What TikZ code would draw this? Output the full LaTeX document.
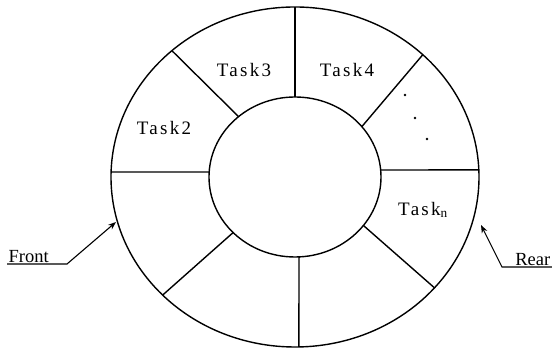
\documentclass[tikz,border=0pt]{standalone}
\usepackage{fontspec}
\setmainfont{Liberation Serif}
\newfontfamily\taskfont[LetterSpace=12]{Liberation Serif}
\usetikzlibrary{arrows.meta,calc}

\begin{document}
\begin{tikzpicture}[x=1pt,y=1pt,
  ring/.style={line width=1.4pt},
  task/.style={font=\taskfont\fontsize{19}{21}\selectfont, inner sep=0pt},
  tag/.style={font=\fontsize{18.5}{20}\selectfont, inner sep=1.5pt},
  pointer/.style={line width=1.1pt, -{Stealth[length=8pt,width=6pt]}}]
  \useasboundingbox (0,0) rectangle (552,352);
  \coordinate (c) at (295,175);
  % the two rings
  \draw[ring] (c) ellipse [x radius=184, y radius=170];
  \draw[ring] (c) ellipse [x radius=86, y radius=80];
  % slots, inner angle / outer angle
  \foreach \ai/\ao in {5/2.4, 39/46, 90/90, 131/132, 176.4/178.3, 224/224, 272.7/271.2, 322.7/319.3}
    \draw[ring] ($(c)+(\ai:86 and 80)$) -- ($(c)+(\ao:184 and 170)$);
  % tasks
  \node[task] (task2) at (164,224) {Task2};
  \node[task] (task3) at (244,282) {Task3};
  \node[task] (task4) at (347,282) {Task4};
  \node[task] (taskn) at (423,142) {Task\textsubscript{n}};
  \fill (405,257) circle (1.3) (415,234) circle (1.3) (427,213) circle (1.3);
  % front and rear
  \node[tag, anchor=south west] (front) at (7,88) {Front};
  \coordinate (frontkink) at (67,88);
  \coordinate (fronttip) at (116,130);
  \draw[pointer] (front.south west) -- (frontkink) -- (fronttip);
  \node[tag, anchor=south east] (rear) at (552,85) {Rear};
  \coordinate (rearkink) at (502,85);
  \coordinate (reartip) at (481,127);
  \draw[pointer] (rear.south east) -- (rearkink) -- (reartip);
\end{tikzpicture}
\end{document}
